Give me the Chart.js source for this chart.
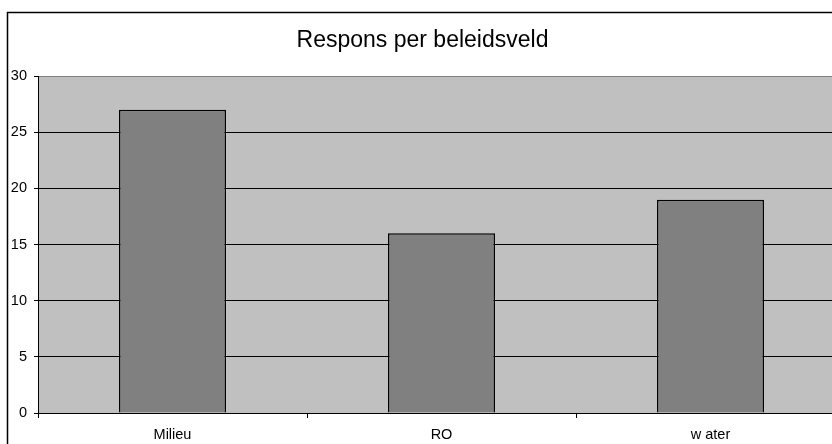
<!DOCTYPE html>
<html>
<head>
<meta charset="utf-8">
<script src="https://cdn.jsdelivr.net/npm/chart.js@4/dist/chart.umd.min.js"></script>
<style>
  html, body { margin: 0; padding: 0; background: #fff; overflow: hidden; }
  #wrap { position: absolute; left: 0; top: 0; width: 860px; height: 444px; }
</style>
</head>
<body>
<div id="wrap"><canvas id="c" width="860" height="444"></canvas></div>
<script>
// Responses per policy field
const categories = ['Milieu', 'RO', 'w ater'];
const responses = [27, 16, 19];
const yTicks = [0, 5, 10, 15, 20, 25, 30];

const FONT = "'Liberation Sans', Arial, sans-serif";

// Grey plot background and the outer frame of the chart
const frame = {
  id: 'frame',
  beforeDraw(chart) {
    const { ctx, chartArea: a } = chart;
    ctx.save();
    ctx.fillStyle = '#fff';
    ctx.fillRect(0, 0, chart.width, chart.height);
    ctx.fillStyle = '#c0c0c0';
    ctx.fillRect(a.left, a.top, a.right - a.left, a.bottom - a.top);
    ctx.restore();
  },
  afterDraw(chart) {
    const { ctx } = chart;
    ctx.save();
    ctx.strokeStyle = '#000';
    ctx.lineWidth = 1.5;
    ctx.strokeRect(7.5, 12.5, 835, 450);
    ctx.restore();
  }
};

new Chart(document.getElementById('c'), {
  type: 'bar',
  data: {
    labels: categories,
    datasets: [{
      data: responses,
      backgroundColor: '#808080',
      borderColor: '#000',
      borderWidth: 1.5,
      barPercentage: 0.398,
      categoryPercentage: 1
    }]
  },
  options: {
    responsive: false,
    animation: false,
    layout: { padding: { left: 0, right: 15, top: 0, bottom: 0 } },
    plugins: {
      legend: { display: false },
      tooltip: { enabled: false },
      title: {
        display: true,
        text: 'Respons per beleidsveld',
        color: '#000',
        font: { family: FONT, size: 23, weight: 'normal' },
        padding: { top: 26.5, bottom: 22 }
      }
    },
    scales: {
      x: {
        offset: true,
        grid: {
          offset: true,
          drawOnChartArea: false,
          drawTicks: true,
          tickLength: 5,
          tickColor: '#000',
          color: '#000'
        },
        border: { display: true, color: '#000', width: 1 },
        ticks: {
          color: '#000',
          padding: 8.5,
          font: { family: FONT, size: 14.5 },
          maxRotation: 0
        },
        afterFit(scale) { scale.height = 31; }
      },
      y: {
        min: 0,
        max: 30,
        afterBuildTicks(scale) { scale.ticks = yTicks.map(v => ({ value: v })); },
        grid: {
          color: ctx => (ctx.tick && ctx.tick.value === 30 ? '#808080' : '#000'),
          lineWidth: 1,
          tickLength: 4,
          tickColor: '#000'
        },
        border: { display: true, color: '#000', width: 1 },
        ticks: {
          color: '#000',
          padding: 7,
          font: { family: FONT, size: 14.5 }
        },
        afterFit(scale) { scale.width = 38; }
      }
    }
  },
  plugins: [frame]
});
</script>
</body>
</html>
